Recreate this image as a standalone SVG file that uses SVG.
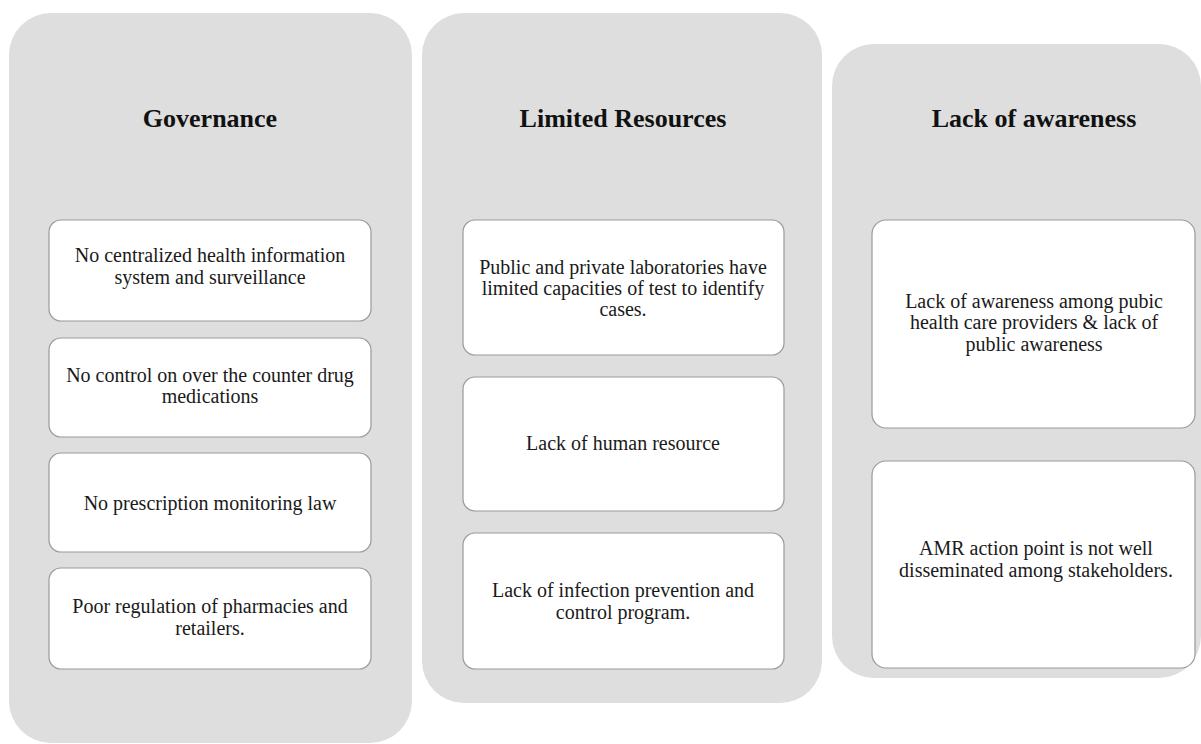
<svg xmlns="http://www.w3.org/2000/svg" width="1201" height="744" viewBox="0 0 1201 744">
<style>
.panel{fill:#dedede;stroke:none}
.box{fill:#ffffff;stroke:#9a9a9a;stroke-width:1.2}
.head{font-family:"Liberation Serif","Times New Roman",serif;font-weight:bold;font-size:26px;fill:#111;text-anchor:middle}
.txt{font-family:"Liberation Serif","Times New Roman",serif;font-size:20px;fill:#1a1a1a;text-anchor:middle}
</style>
<rect width="1201" height="744" fill="#ffffff"/>
<g id="governance">
<rect class="panel" x="9" y="13" width="403" height="730" rx="42"/>
<text class="head" x="210" y="127">Governance</text>
</g>
<g id="limited-resources">
<rect class="panel" x="422" y="13" width="400" height="690" rx="42"/>
<text class="head" x="623" y="127">Limited Resources</text>
</g>
<g id="lack-of-awareness">
<rect class="panel" x="832" y="44" width="369" height="634" rx="42"/>
<text class="head" x="1034" y="127">Lack of awareness</text>
</g>
<g id="connectors"></g>
<g id="gov-1">
<rect class="box" x="49" y="220" width="322" height="101" rx="12"/>
<text class="txt" x="210" y="262">No centralized health information</text>
<text class="txt" x="210" y="284">system and surveillance</text>
</g>
<g id="gov-2">
<rect class="box" x="49" y="338" width="322" height="99" rx="12"/>
<text class="txt" x="210" y="382">No control on over the counter drug</text>
<text class="txt" x="210" y="403">medications</text>
</g>
<g id="gov-3">
<rect class="box" x="49" y="453" width="322" height="99" rx="12"/>
<text class="txt" x="210" y="510">No prescription monitoring law</text>
</g>
<g id="gov-4">
<rect class="box" x="49" y="568" width="322" height="101" rx="12"/>
<text class="txt" x="210" y="613">Poor regulation of pharmacies and</text>
<text class="txt" x="210" y="635">retailers.</text>
</g>
<g id="res-1">
<rect class="box" x="463" y="220" width="321" height="135" rx="12"/>
<text class="txt" x="623" y="274">Public and private laboratories have</text>
<text class="txt" x="623" y="295">limited capacities of test to identify</text>
<text class="txt" x="623" y="316">cases.</text>
</g>
<g id="res-2">
<rect class="box" x="463" y="377" width="321" height="134" rx="12"/>
<text class="txt" x="623" y="450">Lack of human resource</text>
</g>
<g id="res-3">
<rect class="box" x="463" y="533" width="321" height="136" rx="12"/>
<text class="txt" x="623" y="597">Lack of infection prevention and</text>
<text class="txt" x="623" y="619">control program.</text>
</g>
<g id="aw-1">
<rect class="box" x="872" y="220" width="323" height="208" rx="14"/>
<text class="txt" x="1034" y="308">Lack of awareness among pubic</text>
<text class="txt" x="1034" y="329">health care providers &amp; lack of</text>
<text class="txt" x="1034" y="351">public awareness</text>
</g>
<g id="aw-2">
<rect class="box" x="872" y="461" width="323" height="207" rx="14"/>
<text class="txt" x="1036" y="555">AMR action point is not well</text>
<text class="txt" x="1036" y="577">disseminated among stakeholders.</text>
</g>
</svg>
